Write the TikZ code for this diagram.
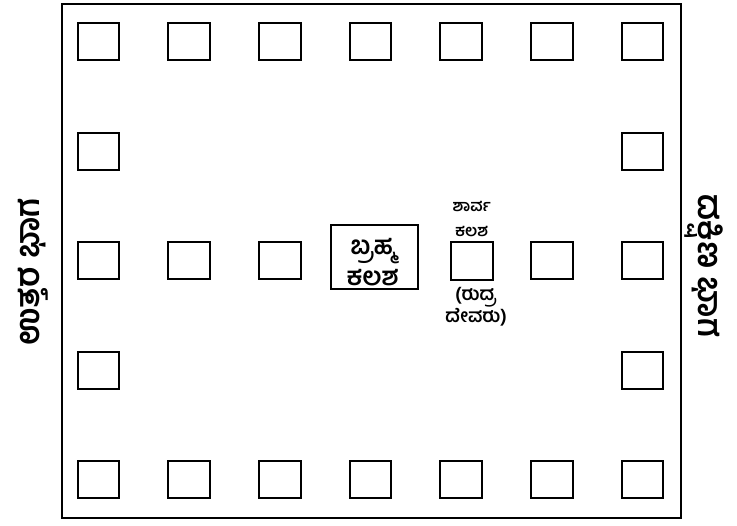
\documentclass[tikz,border=0pt]{standalone}
\usepackage{fontspec}
\usetikzlibrary{positioning}
\newfontfamily\kn[Script=Kannada]{Hind Mysuru}
\begin{document}
\begin{tikzpicture}[x=0.75pt, y=-0.75pt,
    kalasha/.style={draw, line width=1.5pt, minimum width=31.1pt, minimum height=28.1pt, inner sep=0pt},
    kntext/.style={font=\kn\bfseries\fontsize{12}{19}\selectfont, align=center, inner sep=0pt},
    sidetext/.style={font=\kn\bfseries\fontsize{25}{30}\selectfont, inner sep=0pt}]
  \useasboundingbox (0,0) rectangle (737,525);
  \draw[line width=1.5pt] (62,4) rectangle (681,518);

  \foreach \c in {0,...,6} {
    \node[kalasha] (top-\c) at (98.4+90.7*\c, 41.75) {};
    \node[kalasha] (bot-\c) at (98.4+90.7*\c, 479.75) {};
  }
  \foreach \c in {0,6} {
    \node[kalasha] (upr-\c) at (98.4+90.7*\c, 151.25) {};
    \node[kalasha] (lwr-\c) at (98.4+90.7*\c, 370.25) {};
  }
  \foreach \c in {0,1,2,5,6}
    \node[kalasha] (mid-\c) at (98.4+90.7*\c, 260.75) {};

  \node[draw, line width=1.5pt, minimum width=65.25pt, minimum height=48pt] (brahma) at (374.5,257) {};
  \node[kntext, font=\kn\bfseries\fontsize{19}{23}\selectfont] (brahma-txt) at (373,262) {ಬ್ರಹ್ಮ\\ಕಲಶ};
  \node[kalasha] (sharva) at (472,261) {};
  \node[kntext, above=3pt of sharva] (sharva-txt) {ಶಾರ್ವ\\ಕಲಶ};
  \node[kntext, font=\kn\bfseries\fontsize{14}{16}\selectfont, below=5pt of sharva, xshift=3pt] (rudra-txt) {(ರುದ್ರ\\ದೇವರು)};

  \node[sidetext, rotate=90] (north) at (33,272) {ಉತ್ತರ ಭಾಗ};
  \node[sidetext, rotate=-90] (south) at (704,266) {ದಕ್ಷಿಣ ಭಾಗ};
\end{tikzpicture}
\end{document}
